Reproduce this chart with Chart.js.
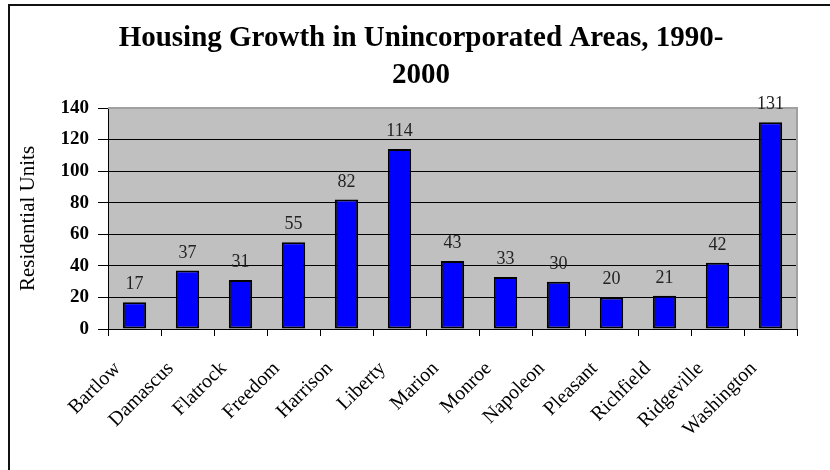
<!DOCTYPE html>
<html>
<head>
<meta charset="utf-8">
<script src="https://cdn.jsdelivr.net/npm/chart.js@4"></script>
<style>
  html, body { margin: 0; padding: 0; background: #fff; }
  #wrap { width: 830px; height: 470px; position: relative; }
</style>
</head>
<body>
<div id="wrap"><canvas id="c" width="830" height="470"></canvas></div>
<script>
const categories = ["Bartlow", "Damascus", "Flatrock", "Freedom", "Harrison", "Liberty", "Marion", "Monroe", "Napoleon", "Pleasant", "Richfield", "Ridgeville", "Washington"];
const residentialUnits = [17, 37, 31, 55, 82, 114, 43, 33, 30, 20, 21, 42, 131];
const titleLines = ["Housing Growth in Unincorporated Areas, 1990-", "2000"];
const yAxisTitle = "Residential Units";
const yMin = 0, yMax = 140, yStep = 20;

const SERIF = "'Liberation Serif', 'Times New Roman', serif";

const framePlugin = {
  id: 'frame',
  beforeDraw(chart) {
    const ctx = chart.ctx;
    const a = chart.chartArea;
    ctx.save();
    ctx.fillStyle = '#ffffff';
    ctx.fillRect(0, 0, chart.width, chart.height);
    // outer chart border (top and left)
    ctx.strokeStyle = '#111';
    ctx.lineWidth = 2;
    ctx.beginPath();
    ctx.moveTo(9, chart.height);
    ctx.lineTo(9, 5);
    ctx.lineTo(chart.width, 5);
    ctx.stroke();
    // plot area
    ctx.fillStyle = '#c0c0c0';
    ctx.fillRect(a.left, a.top, a.right - a.left, a.bottom - a.top);
    // chart title
    ctx.fillStyle = '#000';
    ctx.font = "bold 29px " + SERIF;
    ctx.textAlign = 'center';
    ctx.textBaseline = 'middle';
    titleLines.forEach((line, i) => {
      ctx.fillText(line, 421, 39 + i * 37);
    });
    ctx.restore();
  },
  afterDatasetsDraw(chart) {
    const ctx = chart.ctx;
    const a = chart.chartArea;
    ctx.save();
    ctx.strokeStyle = '#a0a0a0';
    ctx.lineWidth = 2;
    ctx.beginPath();
    ctx.moveTo(a.left, a.top);
    ctx.lineTo(a.right, a.top);
    ctx.lineTo(a.right, a.bottom);
    ctx.stroke();
    // data labels
    const meta = chart.getDatasetMeta(0);
    ctx.fillStyle = '#222';
    ctx.font = "18px " + SERIF;
    ctx.textAlign = 'center';
    ctx.textBaseline = 'alphabetic';
    meta.data.forEach((bar, i) => {
      const v = chart.data.datasets[0].data[i];
      ctx.fillText(String(v), bar.x, bar.y - 13);
    });
    ctx.restore();
  }
};

new Chart(document.getElementById('c'), {
  type: 'bar',
  data: {
    labels: categories,
    datasets: [{
      data: residentialUnits,
      backgroundColor: '#0000ff',
      borderColor: '#000000',
      borderWidth: 2,
      borderSkipped: false,
      barPercentage: 0.44,
      categoryPercentage: 1.0
    }]
  },
  options: {
    responsive: false,
    animation: false,
    devicePixelRatio: 1,
    layout: { padding: { left: 0, right: 33, top: 108, bottom: 0 } },
    plugins: {
      legend: { display: false },
      tooltip: { enabled: false },
      title: { display: false }
    },
    scales: {
      x: {
        offset: true,
        afterFit(scale) { scale.height = 141; },
        grid: {
          offset: true,
          drawOnChartArea: false,
          drawTicks: true,
          tickLength: 7,
          color: '#000',
          lineWidth: 1
        },
        border: { display: true, color: '#000', width: 1 },
        ticks: {
          color: '#000',
          font: { family: SERIF, size: 20 },
          maxRotation: 45,
          minRotation: 45,
          autoSkip: false,
          padding: 21,
          labelOffset: -17
        }
      },
      y: {
        min: yMin,
        max: yMax,
        afterFit(scale) { scale.width = 108; },
        grid: {
          color: '#000',
          lineWidth: 1,
          drawTicks: true,
          tickLength: 10
        },
        border: { display: true, color: '#000', width: 1 },
        ticks: {
          stepSize: yStep,
          color: '#000',
          font: { family: SERIF, size: 19, weight: 'bold' },
          padding: 9
        },
        title: {
          display: true,
          text: yAxisTitle,
          color: '#000',
          font: { family: SERIF, size: 21 },
          padding: { top: 16, bottom: 0 }
        }
      }
    }
  },
  plugins: [framePlugin]
});
</script>
</body>
</html>
